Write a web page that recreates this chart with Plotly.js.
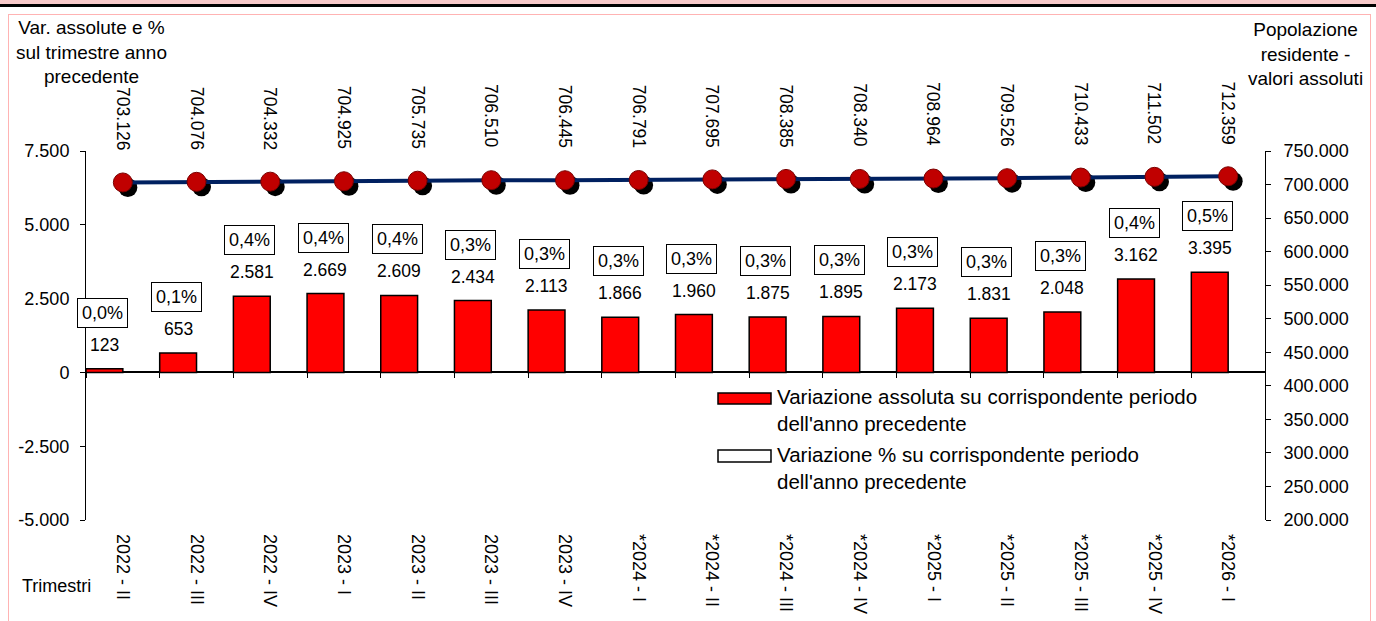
<!DOCTYPE html>
<html><head><meta charset="utf-8">
<script src="https://cdn.plot.ly/plotly-3.0.1.min.js"></script>
<style>
html,body{margin:0;padding:0;background:#fff;width:1376px;height:621px;overflow:hidden;}
#chart{position:absolute;left:0;top:0;width:1376px;height:621px;}
#band{position:absolute;left:0;top:0;width:1376px;height:4px;background:#F7C9C9;}
#rule{position:absolute;left:0;top:4px;width:1376px;height:3px;background:#000;}
#frame{position:absolute;left:8px;top:14px;width:1363px;height:640px;border:1px solid #FFB3B3;box-sizing:border-box;pointer-events:none;}
</style></head>
<body>
<div id="chart"></div>
<div id="band"></div><div id="rule"></div><div id="frame"></div>
<script>
// ---- data ----
const quarters = ['2022 - II','2022 - III','2022 - IV','2023 - I','2023 - II','2023 - III','2023 - IV',
  '*2024 - I','*2024 - II','*2024 - III','*2024 - IV','*2025 - I','*2025 - II','*2025 - III','*2025 - IV','*2026 - I'];
const absVariation = [123,653,2581,2669,2609,2434,2113,1866,1960,1875,1895,2173,1831,2048,3162,3395];
const pctVariation = [0.0,0.1,0.4,0.4,0.4,0.3,0.3,0.3,0.3,0.3,0.3,0.3,0.3,0.3,0.4,0.5];
const population = [703126,704076,704332,704925,705735,706510,706445,706791,707695,708385,708340,708964,709526,710433,711502,712359];
const leftTickVals = [-5000,-2500,0,2500,5000,7500];
const leftTickText = ['-5.000','-2.500','0','2.500','5.000','7.500'];
const rightTickVals = [200000,250000,300000,350000,400000,450000,500000,550000,600000,650000,700000,750000];
const rightTickText = ['200.000','250.000','300.000','350.000','400.000','450.000','500.000','550.000','600.000','650.000','700.000','750.000'];
const nameAbs = "Variazione assoluta su corrispondente periodo<br>dell'anno precedente";
const namePct = "Variazione % su corrispondente periodo<br>dell'anno precedente";
const leftTitle = 'Var. assolute e %<br>sul trimestre anno<br>precedente';
const rightTitle = 'Popolazione<br>residente -<br>valori assoluti';
const xTitle = 'Trimestri';

// ---- geometry ----
const W=1376, H=621, L=86, R=1265, T=151, B=520;
const FONT = 'Liberation Sans, Arial, sans-serif';
const px2x = x => (x - L) / (R - L);
const px2y = y => (B - y) / (B - T);
const leftRange = [-5000, 7500];
const rightRange = [200000, 750000];
const n = quarters.length;
const catRange = [-0.5, n - 0.5];
const shadowPx = 5;
const catPerPx = n / (R - L);
const popPerPx = (rightRange[1] - rightRange[0]) / (B - T);

const fmtThousands = v => String(v).replace(/\B(?=(\d{3})+(?!\d))/g, '.');
const fmtPct = v => v.toFixed(1).replace('.', ',') + '%';

const traces = [
  {type:'bar', x: quarters, y: absVariation, name: nameAbs, xaxis:'x', yaxis:'y',
   marker:{color:'#FF0000', line:{color:'#000', width:1.5}}, showlegend:false, hoverinfo:'skip'},
  {type:'bar', x: quarters, y: pctVariation, name: namePct, xaxis:'x', yaxis:'y',
   marker:{color:'#FFFFFF', line:{color:'#000', width:0}}, showlegend:false, hoverinfo:'skip'},
  {type:'scatter', mode:'markers', x: quarters, y: population, xaxis:'x2', yaxis:'y2',
   marker:{color:'#000', size:19}, showlegend:false, hoverinfo:'skip'},
  {type:'scatter', mode:'lines+markers', x: quarters, y: population, xaxis:'x3', yaxis:'y3',
   line:{color:'#002060', width:4}, marker:{color:'#C00000', size:19, line:{color:'#7A0000', width:1}},
   showlegend:false, hoverinfo:'skip'},
  {type:'scatter', mode:'none', x: quarters.map((_, i) => i - 0.5), y: quarters.map(() => 0),
   xaxis:'x4', yaxis:'y', showlegend:false, hoverinfo:'skip'}
];

const annotations = [];
absVariation.forEach((v, i) => {
  annotations.push({xref:'x', yref:'y', x: i - 0.25, y: v, text: fmtThousands(v), showarrow:false,
    yanchor:'bottom', yshift:12, font:{size:17.5}});
  annotations.push({xref:'x', yref:'y', x: i - 0.25, y: v, xshift:-2, text: fmtPct(pctVariation[i]), showarrow:false,
    yanchor:'bottom', yshift:41, font:{size:18}, bordercolor:'#000', borderwidth:1, borderpad:4, bgcolor:'#fff'});
});
population.forEach((v, i) => {
  annotations.push({xref:'x3', yref:'y3', x: quarters[i], y: v, text: fmtThousands(v), showarrow:false,
    textangle:90, yanchor:'bottom', yshift:30, font:{size:17.5}});
});
annotations.push({xref:'paper', yref:'paper', x: px2x(91), y: px2y(52), text: leftTitle, showarrow:false,
  xanchor:'center', yanchor:'middle', align:'center', font:{size:19}});
annotations.push({xref:'paper', yref:'paper', x: px2x(1305), y: px2y(54), text: rightTitle, showarrow:false,
  xanchor:'center', yanchor:'middle', align:'center', font:{size:19}});
annotations.push({xref:'paper', yref:'paper', x: px2x(56), y: px2y(586), text: xTitle, showarrow:false,
  xanchor:'center', yanchor:'middle', font:{size:18}});
// legend (manual)
annotations.push({xref:'paper', yref:'paper', x: px2x(775), y: px2y(410), text: nameAbs, showarrow:false,
  xanchor:'left', yanchor:'middle', align:'left', font:{size:20.5}});
annotations.push({xref:'paper', yref:'paper', x: px2x(775), y: px2y(468), text: namePct, showarrow:false,
  xanchor:'left', yanchor:'middle', align:'left', font:{size:20.5}});

const shapes = [
  {type:'rect', xref:'paper', yref:'paper', x0:px2x(718), x1:px2x(771), y0:px2y(393), y1:px2y(404),
   fillcolor:'#FF0000', line:{color:'#000', width:1.5}},
  {type:'rect', xref:'paper', yref:'paper', x0:px2x(718), x1:px2x(771), y0:px2y(450), y1:px2y(462),
   fillcolor:'#FFFFFF', line:{color:'#000', width:1.5}}
];

const layout = {
  width: W, height: H,
  margin: {l: L, r: W - R, t: T, b: H - B, pad: 0},
  paper_bgcolor: 'rgba(0,0,0,0)', plot_bgcolor: '#fff',
  font: {family: FONT, size: 18, color: '#000'},
  separators: ',.',
  barmode: 'group', bargap: 0, bargroupgap: 0,
  showlegend: false,
  xaxis: {type:'category', range: catRange, showline:false, ticks:'', tickangle:90,
    ticklabelstandoff: 13, showgrid:false, zeroline:false, tickfont:{size:18}},
  yaxis: {range: leftRange, tickvals: leftTickVals, ticktext: leftTickText, showline:true,
    linecolor:'#000', linewidth:1, ticks:'outside', ticklen:5, tickcolor:'#000', showgrid:false,
    zeroline:true, zerolinecolor:'#000', zerolinewidth:2, ticklabelstandoff:7, tickfont:{size:18}},
  xaxis2: {type:'category', overlaying:'x', visible:false,
    range: [catRange[0] - shadowPx * catPerPx, catRange[1] - shadowPx * catPerPx]},
  yaxis2: {overlaying:'y', visible:false,
    range: [rightRange[0] + shadowPx * popPerPx, rightRange[1] + shadowPx * popPerPx]},
  xaxis3: {type:'category', overlaying:'x', visible:false, range: catRange},
  yaxis3: {overlaying:'y', side:'right', range: rightRange, tickvals: rightTickVals, ticktext: rightTickText,
    showline:true, linecolor:'#000', linewidth:1, ticks:'outside', ticklen:5, tickcolor:'#000',
    showgrid:false, zeroline:false, ticklabelstandoff:9, tickfont:{size:18}},
  xaxis4: {type:'linear', overlaying:'x', anchor:'free', position: -leftRange[0] / (leftRange[1] - leftRange[0]),
    range: catRange, tickvals: quarters.map((_, i) => i - 0.5).concat([n - 0.5]), ticks:'outside',
    ticklen:5, tickcolor:'#000', showticklabels:false, showline:false, showgrid:false, zeroline:false},
  annotations: annotations,
  shapes: shapes
};

Plotly.newPlot('chart', traces, layout, {staticPlot:true, displayModeBar:false});
</script>
</body></html>
